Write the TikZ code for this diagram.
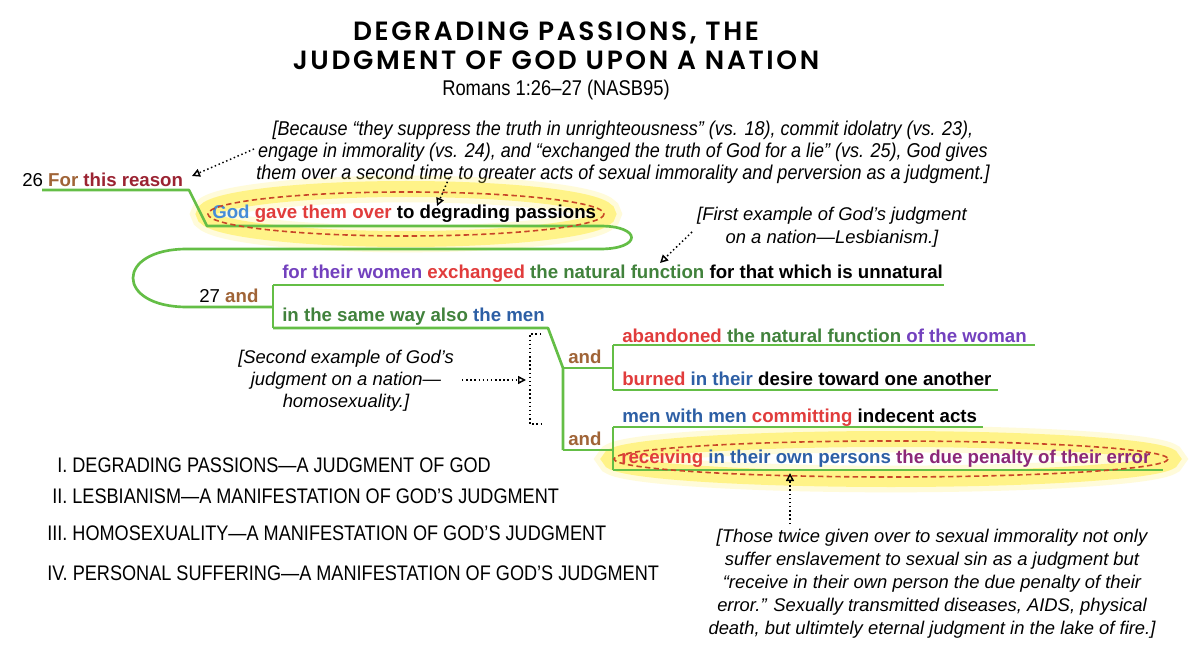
\documentclass[tikz,border=0pt]{standalone}
\usepackage{fontspec}
\setmainfont{Liberation Sans}
\newfontfamily\narrowfont[FakeStretch=0.86]{Liberation Sans}
\newfontfamily\introfont[FakeStretch=0.9]{Liberation Sans}
\newfontfamily\titlefont[LetterSpace=10]{Poppins SemiBold}
\usetikzlibrary{arrows.meta}
\definecolor{brn}{RGB}{160,100,55}
\definecolor{dred}{RGB}{155,35,50}
\definecolor{gblue}{RGB}{70,140,215}
\definecolor{rd}{RGB}{225,60,60}
\definecolor{purp}{RGB}{115,65,190}
\definecolor{dgreen}{RGB}{65,130,60}
\definecolor{bluem}{RGB}{45,95,165}
\definecolor{mag}{RGB}{140,40,120}
\definecolor{lgreen}{RGB}{100,190,70}
\definecolor{ylw}{RGB}{255,238,70}
\definecolor{dash}{RGB}{200,70,40}
\begin{document}
\begin{tikzpicture}[x=0.75pt,y=-0.75pt,
  mtext/.style={font=\fontsize{14}{16}\selectfont\bfseries, inner sep=0pt, anchor=west},
  note/.style={font=\fontsize{13.8}{17.2}\selectfont\itshape, inner sep=0pt, align=center},
  outl/.style={font=\narrowfont\fontsize{15.8}{18}\selectfont, inner sep=0pt, anchor=west},
  ttl/.style={font=\titlefont\fontsize{19.8}{22}\selectfont, inner sep=0pt, text height=14pt, text depth=1pt},
  gline/.style={draw=lgreen, line width=2pt, line join=round},
  darr/.style={draw=black, dotted, line width=1.1pt, -{Triangle[open,length=6pt,width=6pt]}},
  dbrk/.style={draw=black, dotted, line width=1.1pt},
  glow/.style={draw=ylw, line width=12pt, opacity=0.55},
  glowout/.style={draw=ylw, line width=20pt, opacity=0.2},
  redash/.style={draw=dash, dashed, line width=1.2pt, dash pattern=on 4pt off 2.5pt}]
\path[use as bounding box, fill=white] (0,0) rectangle (1192,659);

% title
\node[ttl] (t1) at (556,32) {DEGRADING PASSIONS, THE};
\node[ttl] (t2) at (556,61) {JUDGMENT OF GOD UPON A NATION};
\node[font=\narrowfont\fontsize{16}{18}\selectfont, inner sep=0pt] (ref) at (556,90) {Romans 1:26–27 (NASB95)};
\node[font=\introfont\fontsize{15}{16.5}\selectfont\itshape, inner sep=0pt, align=center] (intro) at (623,152)
  {[Because “they suppress the truth in unrighteousness” (vs. 18), commit idolatry (vs. 23),\\
   engage in immorality (vs. 24), and “exchanged the truth of God for a lie” (vs. 25), God gives\\
   them over a second time to greater acts of sexual immorality and perversion as a judgment.]};

% highlight ellipses (under)
\node[inner sep=0pt] (e1c) at (406,214) {};
\draw[glowout] (e1c) ellipse [x radius=202, y radius=25];
\draw[glow] (e1c) ellipse [x radius=202, y radius=25];
\node[inner sep=0pt] (e2c) at (891,459) {};
\draw[glowout] (e2c) ellipse [x radius=281, y radius=20];
\draw[glow] (e2c) ellipse [x radius=281, y radius=20];

% texts
\node[mtext, font=\fontsize{14}{16}\selectfont] (v26) at (22,180) {26 \textbf{\textcolor{brn}{For} \textcolor{dred}{this reason}}};
\node[mtext] (god) at (212,214) {\textcolor{gblue}{God} \textcolor{rd}{gave them over} to degrading passions};
\node[mtext] (women) at (282,274) {\textcolor{purp}{for their women} \textcolor{rd}{exchanged} \textcolor{dgreen}{the natural function} for that which is unnatural};
\node[mtext, font=\fontsize{14}{16}\selectfont] (v27) at (199,296) {27 \textbf{\textcolor{brn}{and}}};
\node[mtext] (men) at (282,317) {\textcolor{dgreen}{in the same way also} \textcolor{bluem}{the men}};
\node[mtext] (and1) at (568,357) {\textcolor{brn}{and}};
\node[mtext] (and2) at (568,439) {\textcolor{brn}{and}};
\node[mtext] (aban) at (622,336) {\textcolor{rd}{abandoned} \textcolor{dgreen}{the natural function} \textcolor{purp}{of the woman}};
\node[mtext] (burn) at (622,379) {\textcolor{rd}{burned} \textcolor{bluem}{in their} desire toward one another};
\node[mtext] (mwm) at (622,418) {\textcolor{bluem}{men with men} \textcolor{rd}{committing} indecent acts};
\node[mtext] (recv) at (621,459) {\textcolor{rd}{receiving} \textcolor{bluem}{in their own persons} \textcolor{mag}{the due penalty of their error}};

% green structure lines
\coordinate (a0) at (42,190);
\coordinate (a1) at (189,190);
\coordinate (b0) at (207,226);
\coordinate (b1) at (600,226);
\coordinate (c1) at (600,249);
\coordinate (c0) at (187,249);
\coordinate (d0) at (187,307);
\coordinate (d1) at (273,307);
\coordinate (v1t) at (273,285);
\coordinate (v1b) at (273,328);
\coordinate (wE) at (944,285);
\coordinate (mE) at (548,328);
\coordinate (v2t) at (563,368);
\coordinate (v2b) at (563,450);
\coordinate (v3t) at (613,368);
\coordinate (v3b) at (613,450);
\coordinate (p1) at (613,345);
\coordinate (p2) at (613,390);
\coordinate (p3) at (613,427);
\coordinate (p4) at (613,470);
\draw[gline] (a0) -- (a1) -- (b0) -- (b1) .. controls (642,226) and (642,249) .. (c1) -- (c0)
   .. controls (115,249) and (115,307) .. (d0) -- (d1);
\draw[gline] (v1t) -- (v1b);
\draw[gline] (v1t) -- (wE);
\draw[gline] (v1b) -- (mE) -- (v2t) -- (v2b);
\draw[gline] (v2t) -- (v3t);
\draw[gline] (v2b) -- (v3b);
\draw[gline] (p1) -- (p2);
\draw[gline] (p1) -- (1035,345);
\draw[gline] (p2) -- (998,390);
\draw[gline] (p3) -- (p4);
\draw[gline] (p3) -- (983,427);
\draw[gline] (p4) -- (1163,470);

% dashed red ellipses
\draw[redash] (e1c) ellipse [x radius=198, y radius=22];
\draw[redash] (e2c) ellipse [x radius=277, y radius=18];

% notes
\node[note] (n1) at (832,227) {[First example of God’s judgment\\ on a nation—Lesbianism.]};
\node[note, font=\fontsize{13.8}{16.5}\selectfont\itshape] (n2) at (346,381) {[Second example of God’s\\ judgment on a nation—\\ homosexuality.]};
\node[note] (n3) at (932,584) {[Those twice given over to sexual immorality not only\\ suffer enslavement to sexual sin as a judgment but\\ “receive in their own person the due penalty of their\\ error.” Sexually transmitted diseases, AIDS, physical\\ death, but ultimtely eternal judgment in the lake of fire.]};

% dotted arrows
\coordinate (q1s) at (254,149);
\coordinate (q1e) at (192,176);
\draw[darr] (q1s) -- (q1e);
\coordinate (q2s) at (449,178);
\coordinate (q2e) at (437,206);
\draw[darr] (q2s) -- (q2e);
\coordinate (q3s) at (692,232);
\coordinate (q3e) at (660,263);
\draw[darr] (q3s) -- (q3e);
\coordinate (q4s) at (462,380);
\coordinate (q4e) at (526,380);
\draw[darr] (q4s) -- (q4e);
\draw[dbrk] (541,334) -- (530,334) -- (530,424) -- (541,424);
\coordinate (q5s) at (790,524);
\coordinate (q5e) at (790,473);
\draw[darr] (q5s) -- (q5e);

% outline
\node[outl] (o1) at (57,465) {I. DEGRADING PASSIONS—A JUDGMENT OF GOD};
\node[outl] (o2) at (52,496) {II. LESBIANISM—A MANIFESTATION OF GOD’S JUDGMENT};
\node[outl] (o3) at (47,533) {III. HOMOSEXUALITY—A MANIFESTATION OF GOD’S JUDGMENT};
\node[outl] (o4) at (47,573) {IV. PERSONAL SUFFERING—A MANIFESTATION OF GOD’S JUDGMENT};
\end{tikzpicture}
\end{document}
